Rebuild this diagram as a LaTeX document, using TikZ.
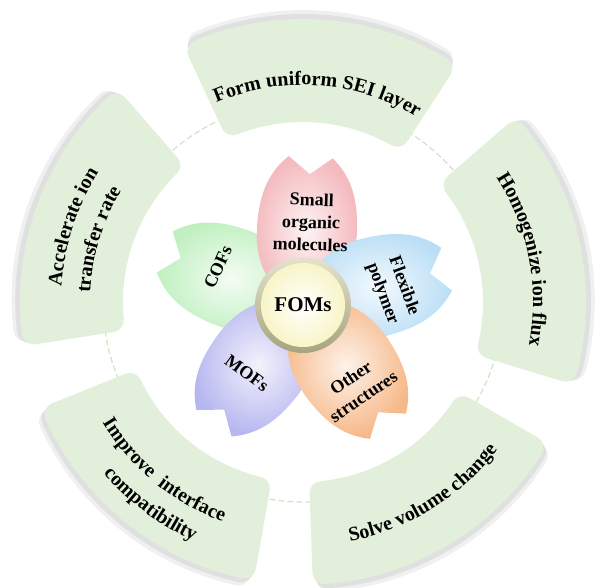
\documentclass[tikz,border=0pt]{standalone}
\usepackage{fontspec}
\setmainfont{Liberation Serif}
\usetikzlibrary{decorations.text,positioning}

\definecolor{segfill}{RGB}{226,239,218}
\definecolor{dashgreen}{RGB}{204,230,194}
\definecolor{petpink}{RGB}{244,186,190}
\definecolor{petblue}{RGB}{186,222,246}
\definecolor{petorange}{RGB}{246,184,136}
\definecolor{petpurple}{RGB}{182,182,240}
\definecolor{petgreen}{RGB}{192,240,192}
\definecolor{fomring}{RGB}{196,192,148}
\definecolor{fomfill}{RGB}{248,245,200}

\newcommand{\ringfont}{\bfseries\fontsize{20}{24}\selectfont}
\newcommand{\petfont}{\bfseries\fontsize{18}{22.5}\selectfont}
\newcommand{\fomfont}{\bfseries\fontsize{21}{24}\selectfont}

\begin{document}
\begin{tikzpicture}[x=1pt,y=1pt,
    seg/.style={line width=24pt, line join=round},
    ringtext/.style={decorate, decoration={text along path, text align=center, text={|\ringfont|#1}}},
    petlabel/.style={font=\petfont, align=center, inner sep=0pt}]
    \useasboundingbox (-303,-285) rectangle (297,302);
    \coordinate (ring) at (0,0);
    \coordinate (flower) at (0,-3);

    % dashed guide behind the ring
    \draw[dashgreen, line width=1.2pt, dash pattern=on 6pt off 3pt] (ring) circle[radius=200];

    % outer ring segments (shrunk path + thick round-joined stroke = rounded corners)
    \foreach \ang in {86,12,-59,231,160}{
        \foreach \sh/\shcol in {9/black!6, 5/black!12, 0/segfill}{
            \filldraw[seg, \shcol, shift={(\ang:\sh)}]
                (\ang+25.42:192) -- (\ang+26.46:271)
                arc[start angle=\ang+26.46, end angle=\ang-26.46, radius=271]
                -- (\ang-25.42:192)
                arc[start angle=\ang-25.42, end angle=\ang+25.42, radius=192] -- cycle;
        }
    }

    \path[ringtext={Form uniform SEI layer}] (126:217) arc[start angle=126, end angle=46, radius=217];
    \path[ringtext={Homogenize ion flux}] (51:230) arc[start angle=51, end angle=-29, radius=230];
    \path[ringtext={Solve volume change}] (-98:244) arc[start angle=-98, end angle=-18, radius=244];
    \path[ringtext={Improve\ \ interface}] (195:234) arc[start angle=195, end angle=266, radius=234];
    \path[ringtext={compatibility}] (198:263) arc[start angle=198, end angle=268, radius=263];
    \path[ringtext={Accelerate ion}] (197:242) arc[start angle=197, end angle=127, radius=242];
    \path[ringtext={transfer rate}] (198:213) arc[start angle=198, end angle=128, radius=213];

    % flower petals
    \foreach \ang/\col in {159/petgreen, -127/petpurple, 87/petpink, 14/petblue, -55/petorange}{
        \shade[inner color=\col!18!white, outer color=\col, shift={(flower)}, rotate=\ang-90]
            (0,0) .. controls (-35,10) and (-51,40) .. (-50,78)
            .. controls (-49,112) and (-40,132) .. (-22,148) -- (0,131) -- (22,148)
            .. controls (40,132) and (49,112) .. (50,78)
            .. controls (51,40) and (35,10) .. (0,0) -- cycle;
    }

    % centre button
    \shade[top color=fomring!45!white, bottom color=fomring!85!black] (flower) circle[radius=48];
    \shade[inner color=white, outer color=fomfill] (flower) circle[radius=42];
    \node[font=\fomfont] (foms) at (flower) {FOMs};

    \node[petlabel, rotate=-2] (small) at ([shift={(8,83)}]flower) {Small\\organic\\molecules};
    \node[petlabel, rotate=-70] (flex) at ([shift={(90,15)}]flower) {Flexible\\polymer};
    \node[petlabel, rotate=34] (other) at ([shift={(54,-82)}]flower) {Other\\structures};
    \node[petlabel, rotate=-36] (mofs) at ([shift={(-56,-68)}]flower) {MOFs};
    \node[petlabel, rotate=66] (cofs) at ([shift={(-85,38)}]flower) {COFs};
\end{tikzpicture}
\end{document}
